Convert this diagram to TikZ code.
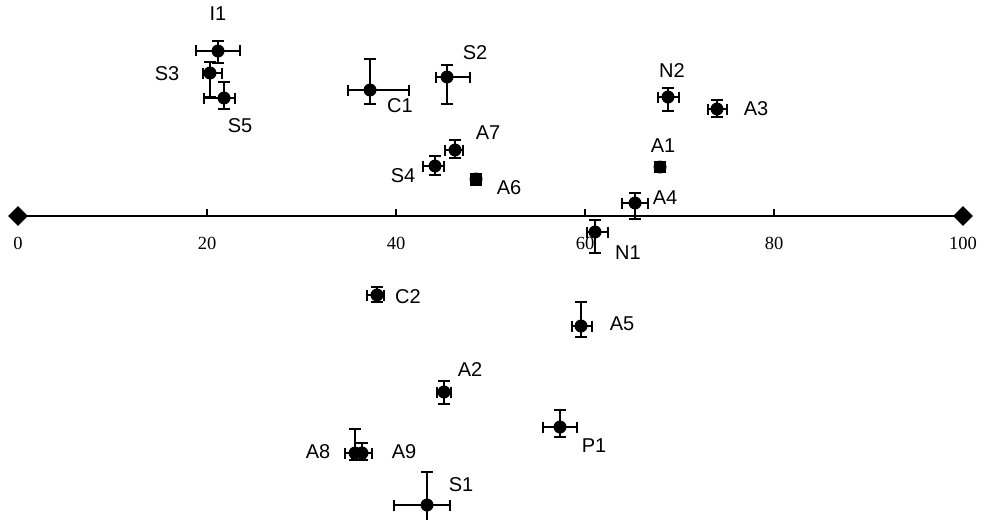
\documentclass[tikz,border=0pt]{standalone}
\usepackage{fontspec}
\setmainfont{Liberation Serif}
\newfontfamily\lblfont{Liberation Sans}
\usetikzlibrary{shapes.geometric}
\tikzset{
  dot/.style={circle,fill=black,inner sep=0pt,minimum size=13pt},
  ebar/.style={line width=2.3pt},
  lbl/.style={font=\lblfont\fontsize{20}{22}\selectfont,inner sep=0pt},
  ticklbl/.style={font=\fontsize{18.5}{20}\selectfont,inner sep=0pt},
  axisline/.style={line width=1.6pt},
  endmark/.style={diamond,fill=black,inner sep=0pt,minimum size=20pt}
}
% #1 name, #2 x, #3 y, #4 xl, #5 xr, #6 yt, #7 yb
\newcommand\errpoint[7]{%
  \draw[ebar] (#4,#3) -- (#5,#3);
  \draw[ebar] (#4,#3-5.5) -- (#4,#3+5.5);
  \draw[ebar] (#5,#3-5.5) -- (#5,#3+5.5);
  \draw[ebar] (#2,#6) -- (#2,#7);
  \draw[ebar] (#2-6,#6) -- (#2+6,#6);
  \draw[ebar] (#2-6,#7) -- (#2+6,#7);
  \node[dot] (#1) at (#2,#3) {};
}
\begin{document}
\begin{tikzpicture}[x=1pt,y=-1pt]
\useasboundingbox (0,0) rectangle (987,519);
% axis
\node[endmark] (e0) at (18,216) {};
\node[endmark] (e100) at (963,216) {};
\draw[axisline] (e0.center) -- (e100.center);
\foreach \v/\px in {20/207,40/396,60/585,80/774}{
  \draw[axisline] (\px,216) -- (\px,209);
}
\foreach \v/\px in {0/18,20/207,40/396,60/585,80/774,100/963}{
  \node[ticklbl] (t\v) at (\px,243) {\v};
}
% points
\errpoint{I1}{218}{51}{196}{240}{41}{63}
\errpoint{S3}{210}{73}{203}{222}{62}{97}
\errpoint{S5}{224}{98}{204}{235}{82}{109}
\errpoint{C1}{370}{90}{348}{409}{59}{104}
\errpoint{S2}{447}{77}{436}{470}{65}{104}
\errpoint{A7}{455}{150}{445}{463}{140}{158}
\errpoint{S4}{435}{166}{423}{444}{156}{175}
\errpoint{A6}{476}{179}{471}{481}{174}{185}
\errpoint{N2}{668}{97}{658}{679}{88}{111}
\errpoint{A3}{717}{109}{708}{727}{100}{117}
\errpoint{A1}{660}{167}{655}{665}{162}{172}
\errpoint{A4}{635}{203}{622}{648}{193}{219}
\errpoint{N1}{595}{232}{587}{608}{220}{253}
\errpoint{C2}{377}{295}{367}{384}{287}{302}
\errpoint{A5}{581}{326}{572}{592}{302}{337}
\errpoint{A2}{444}{392}{437}{451}{381}{404}
\errpoint{P1}{560}{427}{543}{577}{410}{437}
\errpoint{A8}{355}{453}{345}{365}{429}{460}
\errpoint{A9}{362}{453}{352}{372}{443}{460}
\errpoint{S1}{427}{505}{394}{450}{472}{530}
% labels
\node[lbl] (lI1) at (218,14) {I1};
\node[lbl] (lS3) at (167,74) {S3};
\node[lbl] (lS5) at (240,126) {S5};
\node[lbl] (lC1) at (400,106) {C1};
\node[lbl] (lS2) at (475,53) {S2};
\node[lbl] (lA7) at (488,133) {A7};
\node[lbl] (lS4) at (403,176) {S4};
\node[lbl] (lA6) at (509,188) {A6};
\node[lbl] (lN2) at (672,71) {N2};
\node[lbl] (lA3) at (756,109) {A3};
\node[lbl] (lA1) at (663,146) {A1};
\node[lbl] (lA4) at (665,198) {A4};
\node[lbl] (lN1) at (628,253) {N1};
\node[lbl] (lC2) at (408,297) {C2};
\node[lbl] (lA5) at (622,324) {A5};
\node[lbl] (lA2) at (470,370) {A2};
\node[lbl] (lP1) at (594,446) {P1};
\node[lbl] (lA8) at (318,452) {A8};
\node[lbl] (lA9) at (404,452) {A9};
\node[lbl] (lS1) at (461,485) {S1};
\end{tikzpicture}
\end{document}
